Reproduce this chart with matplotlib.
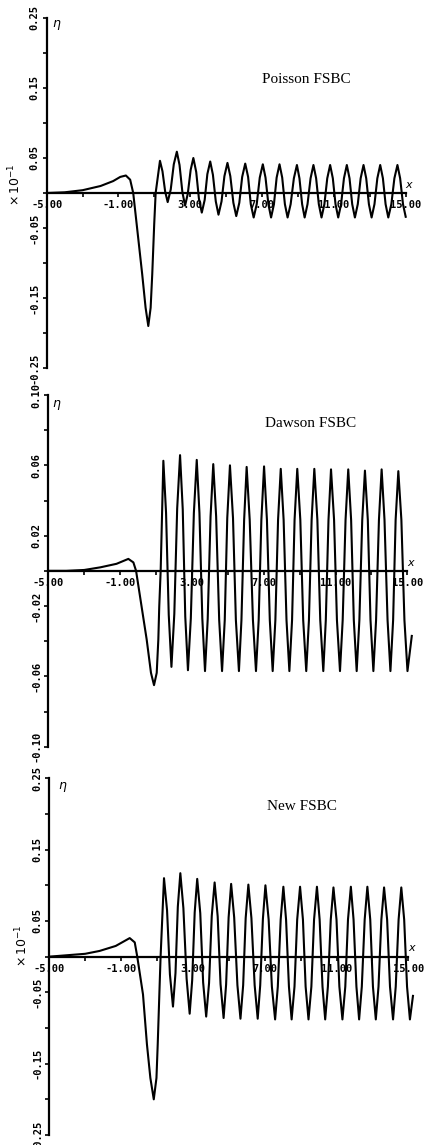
import numpy as np
import matplotlib.pyplot as plt
from matplotlib.ticker import FixedLocator, FormatStrFormatter
from matplotlib.transforms import blended_transform_factory

plt.rcParams['axes.unicode_minus'] = False

titles = ["Poisson FSBC", "Dawson FSBC", "New FSBC"]

# --- Poisson FSBC ---
pois_lead_x = [-5.0, -4.0, -3.0, -2.0, -1.3, -0.9, -0.59, -0.35, -0.18,
               0.01, 0.32, 0.51, 0.66, 0.79, 0.88, 0.99, 1.07]
pois_lead_y = [0.0, 0.001, 0.004, 0.010, 0.017, 0.023, 0.025, 0.019, 0.0,
               -0.044, -0.116, -0.164, -0.19, -0.164, -0.116, -0.044, 0.0]
pois_peak_x = [1.31, 2.25, 3.17, 4.11, 5.07, 6.06, 7.04, 7.97, 8.94, 9.86,
               10.79, 11.72, 12.65, 13.58, 14.54]
pois_peak_y = [0.046, 0.059, 0.050, 0.045, 0.043, 0.042, 0.041, 0.041,
               0.040, 0.040, 0.040, 0.040, 0.040, 0.040, 0.040]
pois_trough_x = [1.74, 2.71, 3.64, 4.57, 5.56, 6.53, 7.50, 8.42, 9.37,
                 10.31, 11.24, 12.17, 13.10, 14.03, 15.0]
pois_trough_y = [-0.013, -0.018, -0.028, -0.031, -0.033, -0.035, -0.035,
                 -0.035, -0.035, -0.035, -0.035, -0.035, -0.035, -0.035,
                 -0.034]
pois_flank_x = [1.45, 1.60, 1.91, 2.08, 2.40, 2.56, 2.86, 3.02, 3.33, 3.48,
                3.80, 3.95, 4.26, 4.42, 4.74, 4.90, 5.23, 5.40, 5.73, 5.89,
                6.22, 6.37, 6.70, 6.87, 7.19, 7.35, 7.66, 7.81, 8.12, 8.27,
                8.59, 8.77, 9.08, 9.23, 9.53, 9.70, 10.01, 10.16, 10.47,
                10.63, 10.94, 11.09, 11.40, 11.56, 11.87, 12.02, 12.33,
                12.49, 12.80, 12.95, 13.26, 13.42, 13.73, 13.88, 14.20,
                14.37, 14.69, 14.85]
pois_flank_y = [0.031, 0.002, 0.005, 0.041, 0.040, 0.001, -0.001, 0.033,
                0.030, -0.008, -0.010, 0.027, 0.026, -0.012, -0.012, 0.024,
                0.024, -0.014, -0.014, 0.023, 0.023, -0.016, -0.016, 0.022,
                0.022, -0.016, -0.016, 0.022, 0.022, -0.016, -0.016, 0.021,
                0.021, -0.016, -0.016, 0.021, 0.021, -0.016, -0.016, 0.021,
                0.021, -0.016, -0.016, 0.021, 0.021, -0.016, -0.016, 0.021,
                0.021, -0.016, -0.016, 0.021, 0.021, -0.016, -0.016, 0.021,
                0.021, -0.016]

# --- Dawson FSBC ---
daw_lead_x = [-5.0, -4.0, -3.0, -2.1, -1.2, -0.54, -0.26, -0.11, 0.20,
              0.48, 0.72, 0.89, 1.04, 1.13, 1.18, 1.26]
daw_lead_y = [0.0, 0.0, 0.0005, 0.002, 0.004, 0.0068, 0.0048, 0.0, -0.0205,
              -0.039, -0.058, -0.065, -0.058, -0.039, -0.0205, 0.0]
daw_peak_x = [1.41, 2.34, 3.27, 4.19, 5.12, 6.05, 7.02, 7.95, 8.87, 9.82,
              10.75, 11.71, 12.64, 13.57, 14.50]
daw_peak_y = [0.0626, 0.0658, 0.0631, 0.0607, 0.0600, 0.0591, 0.0594,
              0.0580, 0.0580, 0.0580, 0.0577, 0.0577, 0.0570, 0.0577, 0.0567]
daw_trough_x = [1.86, 2.78, 3.73, 4.68, 5.62, 6.57, 7.50, 8.43, 9.37,
                10.32, 11.25, 12.18, 13.11, 14.06, 15.01, 15.25]
daw_trough_y = [-0.0546, -0.0565, -0.057, -0.057, -0.057, -0.057, -0.057,
                -0.057, -0.057, -0.057, -0.057, -0.057, -0.057, -0.057,
                -0.057, -0.037]
daw_flank_x = [1.56, 1.71, 2.02, 2.18, 2.49, 2.63, 2.94, 3.11, 3.42, 3.58,
               3.88, 4.04, 4.35, 4.52, 4.83, 4.97, 5.29, 5.45, 5.76, 5.91,
               6.22, 6.40, 6.72, 6.87, 7.18, 7.34, 7.65, 7.80, 8.11, 8.27,
               8.58, 8.72, 9.04, 9.20, 9.52, 9.67, 9.99, 10.15, 10.46,
               10.61, 10.92, 11.08, 11.40, 11.56, 11.87, 12.02, 12.33,
               12.49, 12.80, 12.95, 13.26, 13.42, 13.73, 13.90, 14.21,
               14.35, 14.67, 14.84]
daw_flank_y = [0.033, -0.025, -0.0245, 0.0355, 0.035, -0.026, -0.027, 0.033,
               0.033, -0.027, -0.0275, 0.031, 0.031, -0.028, -0.028, 0.030,
               0.030, -0.028, -0.028, 0.029, 0.029, -0.028, -0.028, 0.029,
               0.029, -0.028, -0.028, 0.029, 0.029, -0.028, -0.028, 0.029,
               0.029, -0.028, -0.028, 0.029, 0.029, -0.028, -0.028, 0.029,
               0.029, -0.028, -0.028, 0.029, 0.029, -0.028, -0.028, 0.029,
               0.029, -0.028, -0.028, 0.029, 0.029, -0.028, -0.028, 0.029,
               0.029, -0.028]

# --- New FSBC ---
new_lead_x = [-5.0, -4.0, -3.0, -2.2, -1.3, -0.52, -0.24, -0.1, 0.22, 0.44,
              0.63, 0.82, 0.97, 1.04, 1.13, 1.20]
new_lead_y = [0.0, 0.002, 0.004, 0.008, 0.015, 0.026, 0.020, 0.0, -0.053,
              -0.123, -0.17, -0.20, -0.17, -0.123, -0.053, 0.0]
new_peak_x = [1.39, 2.30, 3.24, 4.21, 5.13, 6.09, 7.04, 8.04, 8.97, 9.91,
              10.83, 11.80, 12.72, 13.65, 14.61]
new_peak_y = [0.110, 0.117, 0.109, 0.104, 0.102, 0.101, 0.100, 0.098,
              0.098, 0.098, 0.097, 0.098, 0.098, 0.097, 0.097]
new_trough_x = [1.89, 2.82, 3.74, 4.71, 5.65, 6.61, 7.58, 8.50, 9.44,
                10.37, 11.33, 12.26, 13.19, 14.15, 15.09, 15.26]
new_trough_y = [-0.070, -0.080, -0.084, -0.086, -0.087, -0.087, -0.088,
                -0.088, -0.088, -0.088, -0.088, -0.088, -0.088, -0.088,
                -0.088, -0.055]
new_flank_x = [1.56, 1.72, 2.03, 2.16, 2.47, 2.65, 2.96, 3.10, 3.41, 3.57,
               3.90, 4.05, 4.38, 4.54, 4.85, 4.99, 5.30, 5.48, 5.80, 5.94,
               6.26, 6.44, 6.75, 6.90, 7.22, 7.40, 7.73, 7.89, 8.19, 8.35,
               8.66, 8.81, 9.13, 9.28, 9.60, 9.75, 10.06, 10.22, 10.52,
               10.68, 11.00, 11.16, 11.49, 11.64, 11.95, 12.11, 12.41,
               12.57, 12.88, 13.03, 13.34, 13.50, 13.82, 13.98, 14.30,
               14.46, 14.77, 14.93]
new_flank_y = [0.065, -0.025, -0.023, 0.070, 0.068, -0.031, -0.033, 0.062,
               0.061, -0.036, -0.037, 0.057, 0.0565, -0.0385, -0.039, 0.055,
               0.055, -0.040, -0.040, 0.054, 0.054, -0.040, -0.040, 0.053,
               0.052, -0.042, -0.042, 0.052, 0.052, -0.042, -0.042, 0.052,
               0.052, -0.042, -0.042, 0.052, 0.052, -0.042, -0.042, 0.052,
               0.052, -0.042, -0.042, 0.052, 0.052, -0.042, -0.042, 0.052,
               0.052, -0.042, -0.042, 0.052, 0.052, -0.042, -0.042, 0.052,
               0.052, -0.042]

x_major = [-5, -1, 3, 7, 11, 15]
x_minor = [-3, 1, 5, 9, 13]
y_major_a = [-0.25, -0.15, -0.05, 0.05, 0.15, 0.25]
y_minor_a = [-0.20, -0.10, 0.0, 0.10, 0.20]
y_major_b = [-0.10, -0.06, -0.02, 0.02, 0.06, 0.10]
y_minor_b = [-0.08, -0.04, 0.0, 0.04, 0.08]


def curve(lead_x, lead_y, pk_x, pk_y, tr_x, tr_y, fl_x, fl_y):
    wx = np.array(pk_x + tr_x + fl_x)
    wy = np.array(pk_y + tr_y + fl_y)
    order = np.argsort(wx)
    return (np.concatenate([lead_x, wx[order]]),
            np.concatenate([lead_y, wy[order]]))


W, H = 427, 1145
fig = plt.figure(figsize=(W / 100, H / 100), dpi=100)

serif = "Liberation Serif"

# (curve, x0 px, top px, bottom px, ylim, major, minor, title pos, eta pos, scale label pos)
panels = [
    (curve(pois_lead_x, pois_lead_y, pois_peak_x, pois_peak_y,
           pois_trough_x, pois_trough_y, pois_flank_x, pois_flank_y),
     46.7, 18, 368, 0.25, y_major_a, y_minor_a, (0.705, 0.823),
     (0.028, 0.98), (-0.086, 0.012)),
    (curve(daw_lead_x, daw_lead_y, daw_peak_x, daw_peak_y,
           daw_trough_x, daw_trough_y, daw_flank_x, daw_flank_y),
     48.3, 395, 746.7, 0.10, y_major_b, y_minor_b, (0.714, 0.920),
     (0.024, 0.972), None),
    (curve(new_lead_x, new_lead_y, new_peak_x, new_peak_y,
           new_trough_x, new_trough_y, new_flank_x, new_flank_y),
     49.3, 778.3, 1135, 0.25, y_major_a, y_minor_a, (0.687, 0.920),
     (0.037, 0.976), (-0.074, 0.015)),
]

for i, (xy, x0, top, bot, ym, ymaj, ymin, tpos, epos, spos) in enumerate(panels):
    width = 20.5 * 17.95
    ax = fig.add_axes([x0 / W, 1 - bot / H, width / W, (bot - top) / H])
    ax.plot(xy[0], xy[1], color="black", lw=1.5, solid_joinstyle="round")
    ax.set_xlim(-5, 15.5)
    ax.set_ylim(-ym, ym)

    for s in ["top", "right"]:
        ax.spines[s].set_visible(False)
    ax.spines["bottom"].set_position(("data", 0))
    ax.spines["bottom"].set_bounds(-5, 15)
    ax.spines["bottom"].set_linewidth(1.6)
    ax.spines["left"].set_linewidth(1.6)

    ax.xaxis.set_major_locator(FixedLocator(x_major))
    ax.xaxis.set_minor_locator(FixedLocator(x_minor))
    ax.xaxis.set_major_formatter(FormatStrFormatter("%.2f"))
    ax.yaxis.set_major_locator(FixedLocator(ymaj))
    ax.yaxis.set_minor_locator(FixedLocator(ymin))
    ax.yaxis.set_major_formatter(FormatStrFormatter("%.2f"))
    ax.tick_params(which="both", direction="out", length=3, width=1.2,
                   pad=2)
    for lab in ax.get_xticklabels() + ax.get_yticklabels():
        lab.set_fontfamily("DejaVu Sans Mono")
        lab.set_fontweight("bold")
        lab.set_fontsize(7.5)
    plt.setp(ax.get_yticklabels(), rotation=90, va="center", ha="right")

    ax.text(tpos[0], tpos[1], titles[i], transform=ax.transAxes,
            ha="center", va="center", family=serif, fontsize=11)
    ax.text(epos[0], epos[1], r"$\eta$", transform=ax.transAxes,
            ha="center", va="center", fontsize=9)
    ax.annotate(r"$x$", xy=(15, 0), xytext=(3, 6),
                textcoords="offset points", ha="center", va="center",
                fontsize=8)
    if spos is not None:
        tr = blended_transform_factory(ax.transAxes, ax.transData)
        ax.text(spos[0], spos[1], r"$\times\,10^{-1}$", transform=tr,
                rotation=90, ha="center", va="center", fontsize=9)

fig.savefig("out.png", dpi=100)
